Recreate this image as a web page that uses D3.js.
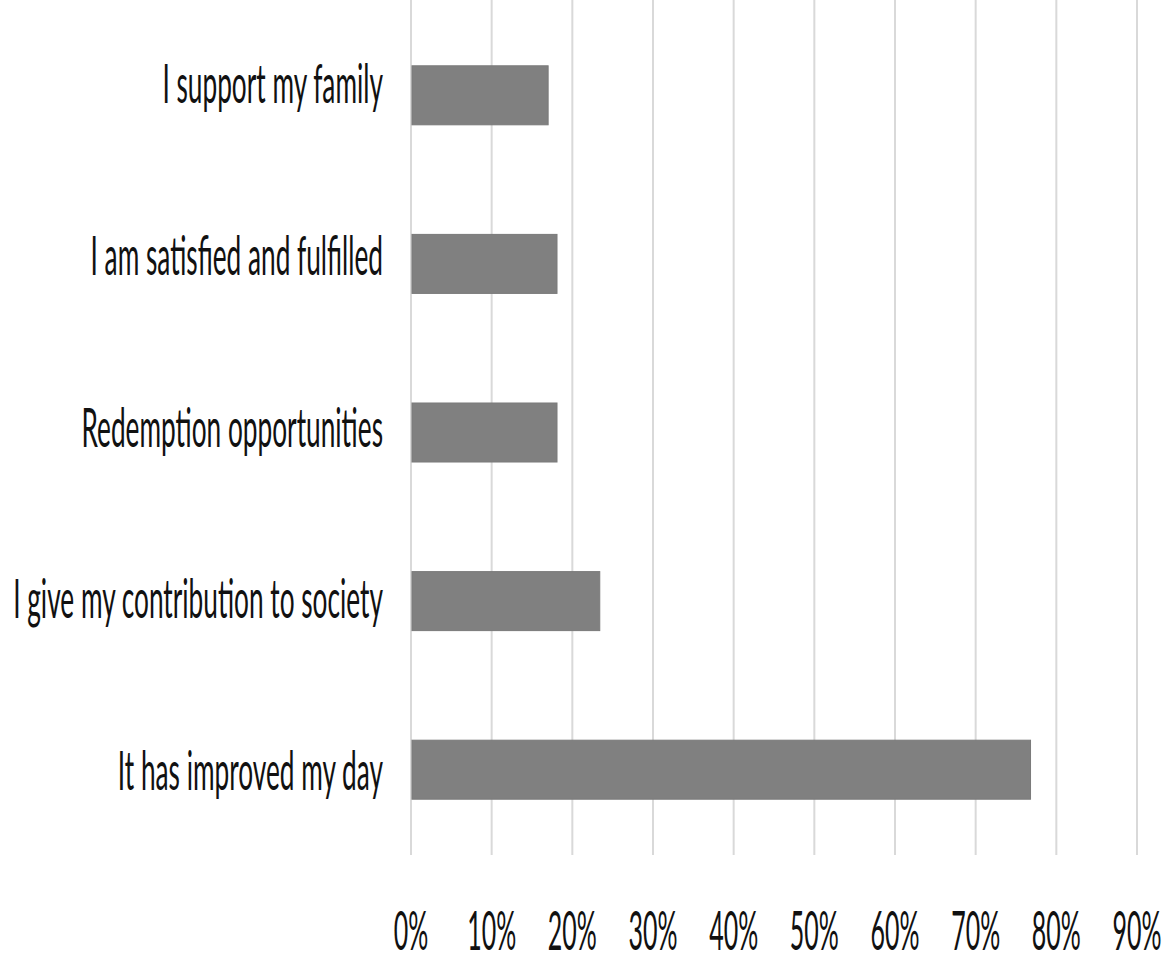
<!DOCTYPE html>
<html>
<head>
<meta charset="utf-8">
<script src="https://cdn.jsdelivr.net/npm/d3@7"></script>
<style>
  html, body { margin: 0; padding: 0; background: #fff; }
  svg { display: block; }
  text { font-family: Lato, "Open Sans", "Noto Sans", sans-serif; fill: #111; }
</style>
</head>
<body>
<svg id="chart" width="1169" height="964"></svg>
<script>
const categories = [
  "I support my family",
  "I am satisfied and fulfilled",
  "Redemption opportunities",
  "I give my contribution to society",
  "It has improved my day"
];
const values = [0.17, 0.181, 0.181, 0.234, 0.768];
const tickValues = [0, 0.1, 0.2, 0.3, 0.4, 0.5, 0.6, 0.7, 0.8, 0.9];
const tickLabels = ["0%", "10%", "20%", "30%", "40%", "50%", "60%", "70%", "80%", "90%"];

const svg = d3.select("#chart");
const x = d3.scaleLinear().domain([0, 0.9]).range([411, 1137]);
const y = d3.scaleBand().domain(categories).range([11, 854]).paddingInner(0.65).paddingOuter(0.325);

const labelFontSize = 54;
const tickFontSize = 54;

// gridlines
svg.append("g").selectAll("line").data(tickValues).join("line")
  .attr("x1", d => x(d)).attr("x2", d => x(d))
  .attr("y1", 0).attr("y2", 855)
  .attr("stroke", "#d9d9d9").attr("stroke-width", 2);

// bars
svg.append("g").selectAll("rect").data(categories).join("rect")
  .attr("x", x(0) + 1)
  .attr("y", d => y(d))
  .attr("width", (d, i) => x(values[i]) - x(0) - 1)
  .attr("height", y.bandwidth())
  .attr("fill", "#808080")
  .attr("stroke", "#7a7a7a").attr("stroke-width", 1);

// category labels
const labels = svg.append("g").selectAll("text").data(categories).join("text")
  .attr("text-anchor", "end")
  .attr("font-size", labelFontSize)
  .text(d => d);

let maxW = 0;
labels.each(function () { maxW = Math.max(maxW, this.getComputedTextLength()); });
const scaleX = maxW > 0 ? 370 / maxW : 0.5;
labels.attr("transform", (d, i) => `translate(383,${y(d) + y.bandwidth() / 2 + 8 + i * 3}) scale(${scaleX},1)`);

// tick labels
const ticks = svg.append("g").selectAll("text").data(tickValues).join("text")
  .attr("text-anchor", "middle")
  .attr("font-size", tickFontSize)
  .text((d, i) => tickLabels[i]);
let tW = 0;
ticks.filter((d, i) => i === 1).each(function () { tW = this.getComputedTextLength(); });
const tickScaleX = tW > 0 ? 49 / tW : 0.5;
ticks.attr("transform", d => `translate(${x(d)},950) scale(${tickScaleX},1)`);
</script>
</body>
</html>
